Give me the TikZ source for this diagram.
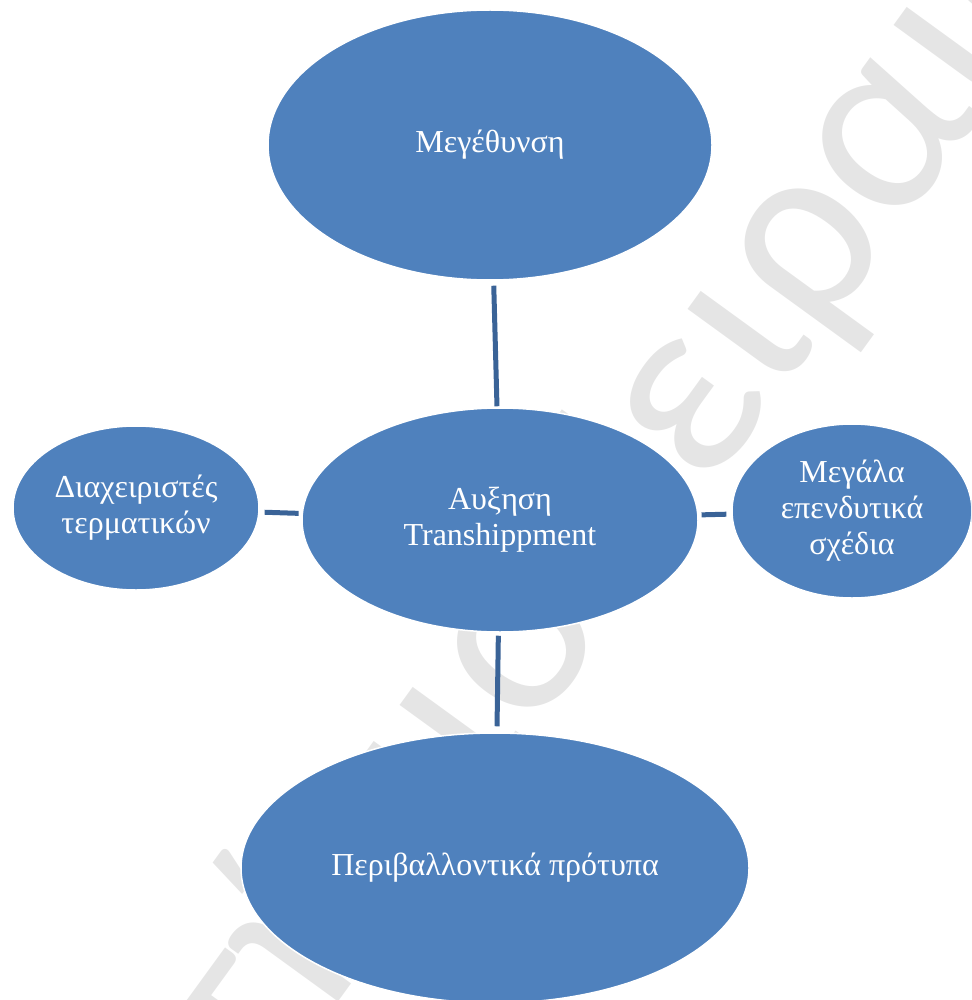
\documentclass[tikz,border=0pt]{standalone}
\usepackage{fontspec}
\setmainfont{Liberation Serif}
\newfontfamily\markfont{Carlito}
\usetikzlibrary{shapes.geometric}
\definecolor{bubblefill}{HTML}{4F81BD}
\definecolor{linkcol}{HTML}{3A6397}
\definecolor{markgray}{HTML}{E5E5E5}
\begin{document}
\begin{tikzpicture}[x=1pt,y=-1pt,
  bubble/.style={ellipse, fill=bubblefill, draw=white, line width=1.5pt, inner sep=0pt},
  lbl/.style={text=white, align=center, inner sep=0pt, font=\fontsize{32}{36}\selectfont},
  link/.style={draw=linkcol, line width=5pt},
  wmark/.style={rotate=54, text=markgray, inner sep=0pt, font=\markfont\fontsize{260}{260}\selectfont}]
\useasboundingbox (0,0) rectangle (971,1000);
\clip (0,0) rectangle (971,1000);

% background watermark
\coordinate (wm) at (612,625);
\node[wmark, anchor=base west] (wmb) at (wm) {Πειραιώς};
\node[wmark, anchor=base east] (wma) at (wm) {Πανεπιστήμιο\ };

% bubbles
\node[bubble, minimum width=444pt, minimum height=270pt] (grow) at (490,145) {};
\node[bubble, minimum width=396pt, minimum height=224pt] (hub)  at (500,520) {};
\node[bubble, minimum width=246pt, minimum height=164pt] (ops)  at (136,508) {};
\node[bubble, minimum width=240pt, minimum height=174pt] (inv)  at (852,511) {};
\node[bubble, minimum width=508pt, minimum height=270pt] (env)  at (495,868) {};

% labels
\node[lbl] at (grow) {Μεγέθυνση};
\node[lbl] at (hub)  {Αυξηση\\Transhippment};
\node[lbl] at (ops)  {Διαχειριστές\\τερματικών};
\node[lbl] at (inv)  {Μεγάλα\\επενδυτικά\\σχέδια};
\node[lbl] at (env)  {Περιβαλλοντικά πρότυπα};

% connectors
\draw[link, shorten <=5pt, shorten >=1pt] (grow) -- (hub);
\draw[link, shorten <=3pt, shorten >=6pt] (hub) -- (env);
\draw[link, shorten <=3pt, shorten >=5pt] (hub) -- (ops);
\draw[link, shorten <=3pt, shorten >=5pt] (hub) -- (inv);
\end{tikzpicture}
\end{document}
